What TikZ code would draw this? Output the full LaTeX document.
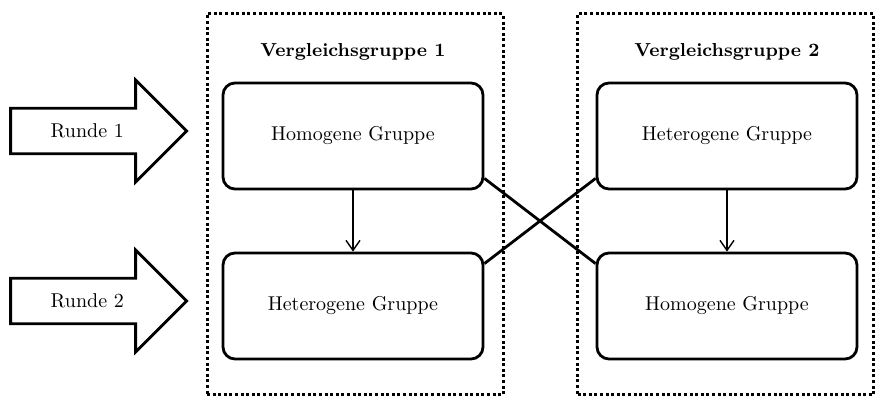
\documentclass[tikz,border=0pt]{standalone}
\usetikzlibrary{positioning,shapes.arrows,arrows.meta}

\begin{document}
\begin{tikzpicture}[
    node distance=85pt,
    every node/.style={font=\normalsize},
    box/.style={draw, line width=1.4pt, rounded corners=6pt, align=center, minimum width=130pt, minimum height=53pt},
    frame/.style={draw, line width=1.5pt, dash pattern=on 1.5pt off 1.3pt, minimum width=148pt, minimum height=190.5pt},
    title/.style={font=\fontsize{9.4}{11}\selectfont\bfseries},
    bigarrow/.style={single arrow, draw, line width=1.4pt, single arrow head extend=9.5pt, minimum height=88pt, minimum width=51pt},
    arrow/.style={-{Straight Barb[length=5pt,width=7pt]}, line width=0.7pt},
    cross/.style={line width=1.4pt}
  ]
    \useasboundingbox (0,0) rectangle (437.5pt,198.5pt);
    \node[frame] (g1) at (177.5pt,96.25pt) {};
    \node[frame] (g2) at (362.75pt,96.25pt) {};
    \node[box] (tl) at (176.5pt,130.5pt) {Homogene Gruppe};
    \node[box, below of=tl] (bl) {Heterogene Gruppe};
    \node[box, right of=tl, xshift=102pt] (tr) {Heterogene Gruppe};
    \node[box, below of=tr] (br) {Homogene Gruppe};
    \node[title, above of=tl, yshift=-43pt] (t1) {Vergleichsgruppe 1};
    \node[title, above of=tr, yshift=-43pt] (t2) {Vergleichsgruppe 2};
    \node[bigarrow, anchor=tip] (r1) at ([xshift=-16.5pt, yshift=2.5pt]tl.west) {Runde 1};
    \node[bigarrow, anchor=tip] (r2) at ([xshift=-16.5pt, yshift=2.5pt]bl.west) {Runde 2};
    \draw[arrow] (tl) -- (bl);
    \draw[arrow] (tr) -- (br);
    \draw[cross] ([yshift=6pt]tl.south east) -- ([yshift=-6pt]br.north west);
    \draw[cross] ([yshift=-6pt]bl.north east) -- ([yshift=6pt]tr.south west);
  \end{tikzpicture}
\end{document}
